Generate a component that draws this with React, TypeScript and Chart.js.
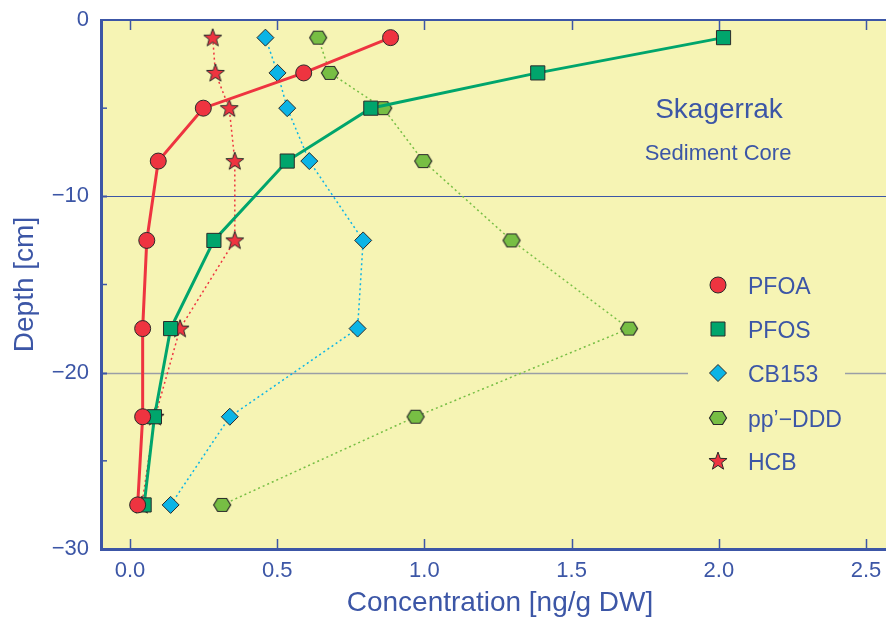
import React, { useEffect, useRef } from "react";
import { Chart, registerables } from "chart.js";

Chart.register(...registerables);

// ---------- data ----------
const depths = [-1, -3, -5, -8, -12.5, -17.5, -22.5, -27.5];
const pfoa = [0.885, 0.59, 0.249, 0.096, 0.057, 0.043, 0.043, 0.026];
const pfos = [2.016, 1.385, 0.818, 0.534, 0.285, 0.138, 0.083, 0.048];
const cb153 = [0.46, 0.501, 0.534, 0.609, 0.792, 0.773, 0.339, 0.138];
const ppddd = [0.639, 0.679, 0.86, 0.996, 1.296, 1.695, 0.97, 0.313];
const hcb = [0.281, 0.29, 0.337, 0.356, 0.356, 0.17, 0.085, 0.04];

const seriesNames = ["PFOA", "PFOS", "CB153", "pp\u2019\u2212DDD", "HCB"];
const xTickValues = [0, 0.5, 1, 1.5, 2, 2.5];
const yMinorTicks = [-5, -15, -25];
const yGridLines = [-10, -20];
const titleMain = "Skagerrak";
const titleSub = "Sediment Core";
const xTitle = "Concentration [ng/g DW]";
const yTitle = "Depth [cm]";

// ---------- styles ----------
const BLUE = "#3c56a6";
const BG = "#f6f4b4";
const FONT = "'Liberation Sans', Arial, Helvetica, sans-serif";
const RED = "#ee3440";
const GREEN = "#00a56c";
const CYAN = "#0bb4e6";
const LGREEN = "#77be44";
const STROKE = "#2a2a2a";
const CANVAS_W = 899;
const CANVAS_H = 618;

function makeHex(): HTMLCanvasElement {
  const c = document.createElement("canvas");
  c.width = 20;
  c.height = 16;
  const ctx = c.getContext("2d")!;
  const cx = 10, cy = 8;
  ctx.beginPath();
  ctx.moveTo(cx - 8.5, cy);
  ctx.lineTo(cx - 4.5, cy - 6.5);
  ctx.lineTo(cx + 4.5, cy - 6.5);
  ctx.lineTo(cx + 8.5, cy);
  ctx.lineTo(cx + 4.5, cy + 6.5);
  ctx.lineTo(cx - 4.5, cy + 6.5);
  ctx.closePath();
  ctx.fillStyle = LGREEN;
  ctx.fill();
  ctx.lineWidth = 1.2;
  ctx.strokeStyle = STROKE;
  ctx.stroke();
  return c;
}

function makeStar(): HTMLCanvasElement {
  const c = document.createElement("canvas");
  c.width = 22;
  c.height = 22;
  const ctx = c.getContext("2d")!;
  const cx = 11, cy = 11.5, ro = 9.5, ri = 3.9;
  ctx.beginPath();
  for (let i = 0; i < 10; i++) {
    const r = i % 2 === 0 ? ro : ri;
    const a = -Math.PI / 2 + (i * Math.PI) / 5;
    const px = cx + r * Math.cos(a);
    const py = cy + r * Math.sin(a);
    if (i === 0) ctx.moveTo(px, py);
    else ctx.lineTo(px, py);
  }
  ctx.closePath();
  ctx.fillStyle = RED;
  ctx.fill();
  ctx.lineWidth = 1;
  ctx.strokeStyle = STROKE;
  ctx.stroke();
  return c;
}

function drawMarker(ctx: CanvasRenderingContext2D, kind: string, x: number, y: number, img?: HTMLCanvasElement) {
  ctx.save();
  ctx.lineWidth = 1;
  ctx.strokeStyle = STROKE;
  if (kind === "circle") {
    ctx.beginPath();
    ctx.arc(x, y, 8, 0, Math.PI * 2);
    ctx.fillStyle = RED;
    ctx.fill();
    ctx.stroke();
  } else if (kind === "rect") {
    ctx.beginPath();
    ctx.rect(x - 7, y - 7, 14, 14);
    ctx.fillStyle = GREEN;
    ctx.fill();
    ctx.stroke();
  } else if (kind === "rectRot") {
    ctx.beginPath();
    ctx.moveTo(x - 8.5, y);
    ctx.lineTo(x, y - 8.5);
    ctx.lineTo(x + 8.5, y);
    ctx.lineTo(x, y + 8.5);
    ctx.closePath();
    ctx.fillStyle = CYAN;
    ctx.fill();
    ctx.stroke();
  } else if (img) {
    ctx.drawImage(img, x - img.width / 2, y - img.height / 2);
  }
  ctx.restore();
}

export default function App() {
  const ref = useRef<HTMLCanvasElement | null>(null);

  useEffect(() => {
    const canvas = ref.current;
    if (!canvas) return;
    const hexImg = makeHex();
    const starImg = makeStar();
    const pts = (arr: number[]) => arr.map((x, i) => ({ x, y: depths[i] }));

    const framePlugin = {
      id: "frame",
      beforeDatasetsDraw(chart: any) {
        const { ctx, chartArea } = chart;
        const xs = chart.scales.x;
        const ys = chart.scales.y;
        const { left, right, top, bottom } = chartArea;
        ctx.save();
        ctx.fillStyle = BG;
        ctx.fillRect(left, top, right - left, bottom - top);
        // grid lines
        yGridLines.forEach((v, i) => {
          const py = Math.round(ys.getPixelForValue(v)) + 0.5;
          ctx.beginPath();
          ctx.strokeStyle = i === 0 ? BLUE : "#9a9ea6";
          ctx.lineWidth = i === 0 ? 1 : 1.5;
          ctx.moveTo(left, py);
          ctx.lineTo(right, py);
          ctx.stroke();
          ctx.beginPath();
          ctx.strokeStyle = BLUE;
          ctx.lineWidth = 2;
          ctx.moveTo(left, py);
          ctx.lineTo(left + 6, py);
          ctx.stroke();
        });
        // minor y ticks
        ctx.strokeStyle = BLUE;
        ctx.lineWidth = 1.5;
        yMinorTicks.forEach((v) => {
          const py = ys.getPixelForValue(v);
          ctx.beginPath();
          ctx.moveTo(left, py);
          ctx.lineTo(left + 6, py);
          ctx.stroke();
        });
        // x ticks top and bottom
        xTickValues.forEach((v) => {
          const px = Math.round(xs.getPixelForValue(v)) + 0.5;
          ctx.beginPath();
          ctx.moveTo(px, top);
          ctx.lineTo(px, top + 10);
          ctx.moveTo(px, bottom);
          ctx.lineTo(px, bottom - 10);
          ctx.stroke();
        });
        // borders
        ctx.strokeStyle = BLUE;
        ctx.lineWidth = 2;
        ctx.beginPath();
        ctx.moveTo(left, top);
        ctx.lineTo(right, top);
        ctx.stroke();
        ctx.lineWidth = 3;
        ctx.beginPath();
        ctx.moveTo(left + 0.5, top - 1);
        ctx.lineTo(left + 0.5, bottom + 0.5);
        ctx.lineTo(right, bottom + 0.5);
        ctx.stroke();
        ctx.restore();
      },
      afterDraw(chart: any) {
        const { ctx } = chart;
        ctx.save();
        ctx.fillStyle = BLUE;
        ctx.textAlign = "center";
        ctx.textBaseline = "alphabetic";
        ctx.font = `28px ${FONT}`;
        ctx.fillText(titleMain, 719, 118);
        ctx.font = `22px ${FONT}`;
        ctx.fillText(titleSub, 718, 160);

        // legend
        ctx.fillStyle = BG;
        ctx.fillRect(688, 265, 157, 215);
        const rows = [285, 329, 373, 418, 461];
        const kinds = ["circle", "rect", "rectRot", "hex", "star"];
        kinds.forEach((k, i) => {
          drawMarker(ctx, k, 718, rows[i], k === "hex" ? hexImg : k === "star" ? starImg : undefined);
        });
        ctx.fillStyle = BLUE;
        ctx.textAlign = "left";
        ctx.font = `23px ${FONT}`;
        seriesNames.forEach((n, i) => {
          ctx.fillText(n, 748, rows[i] + 8.5);
        });
        ctx.restore();
      },
    };

    const dotted = { borderWidth: 1.5, borderDash: [2, 3] };
    const zeroPad = (s: any) => {
      s.paddingTop = 0;
      s.paddingBottom = 0;
      s.paddingLeft = 0;
      s.paddingRight = 0;
    };

    const chart = new Chart(canvas, {
      type: "scatter",
      data: {
        datasets: [
          {
            label: seriesNames[0],
            data: pts(pfoa),
            showLine: true,
            borderColor: RED,
            borderWidth: 3,
            pointStyle: "circle",
            pointRadius: 8,
            pointBackgroundColor: RED,
            pointBorderColor: STROKE,
            pointBorderWidth: 1,
          },
          {
            label: seriesNames[1],
            data: pts(pfos),
            showLine: true,
            borderColor: GREEN,
            borderWidth: 3,
            pointStyle: "rect",
            pointRadius: 10,
            pointBackgroundColor: GREEN,
            pointBorderColor: STROKE,
            pointBorderWidth: 1,
          },
          {
            label: seriesNames[2],
            data: pts(cb153),
            showLine: true,
            borderColor: CYAN,
            ...dotted,
            pointStyle: "rectRot",
            pointRadius: 8.5,
            pointBackgroundColor: CYAN,
            pointBorderColor: STROKE,
            pointBorderWidth: 1,
          },
          {
            label: seriesNames[3],
            data: pts(ppddd),
            showLine: true,
            borderColor: LGREEN,
            ...dotted,
            pointStyle: hexImg as any,
            pointRadius: 8,
          },
          {
            label: seriesNames[4],
            data: pts(hcb),
            showLine: true,
            borderColor: RED,
            ...dotted,
            pointStyle: starImg as any,
            pointRadius: 9,
          },
        ],
      },
      options: {
        responsive: false,
        devicePixelRatio: 1,
        animation: false,
        layout: { autoPadding: false, padding: { top: 20, left: 0, right: 0, bottom: 0 } },
        plugins: {
          legend: { display: false },
          tooltip: { enabled: false },
        },
        scales: {
          x: {
            type: "linear",
            position: "bottom",
            min: -0.0985,
            max: 2.612,
            afterFit: (s: any) => {
              s.height = 69;
              zeroPad(s);
            },
            afterBuildTicks: (s: any) => {
              s.ticks = xTickValues.map((v) => ({ value: v }));
            },
            grid: { display: false, drawTicks: false },
            border: { display: false },
            ticks: {
              color: BLUE,
              font: { family: FONT, size: 22 },
              padding: 9,
              maxRotation: 0,
              autoSkip: false,
              callback: (v: any) => Number(v).toFixed(1),
            },
            title: {
              display: true,
              text: xTitle,
              color: BLUE,
              font: { family: FONT, size: 28, lineHeight: 1 },
              padding: { top: 0, bottom: 0.5 },
            },
          },
          y: {
            type: "linear",
            position: "left",
            min: -30,
            max: 0,
            afterFit: (s: any) => {
              s.width = 101;
              zeroPad(s);
            },
            grid: { display: false, drawTicks: false },
            border: { display: false },
            ticks: {
              stepSize: 10,
              color: BLUE,
              font: { family: FONT, size: 22 },
              padding: 12,
              callback: (v: any) => (Number(v) === 0 ? "0" : "\u2212" + Math.abs(Number(v))),
            },
            title: {
              display: true,
              text: yTitle,
              color: BLUE,
              font: { family: FONT, size: 28, lineHeight: 1 },
              padding: { top: 11.5, bottom: 0 },
            },
          },
        },
      },
      plugins: [framePlugin],
    });

    return () => chart.destroy();
  }, []);

  return (
    <div
      style={{
        position: "fixed",
        left: 0,
        top: 0,
        width: 886,
        height: 618,
        overflow: "hidden",
        background: "#ffffff",
      }}
    >
      <div style={{ width: CANVAS_W, height: CANVAS_H }}>
        <canvas
          ref={ref}
          width={CANVAS_W}
          height={CANVAS_H}
          style={{ display: "block", width: CANVAS_W, height: CANVAS_H }}
        />
      </div>
    </div>
  );
}
